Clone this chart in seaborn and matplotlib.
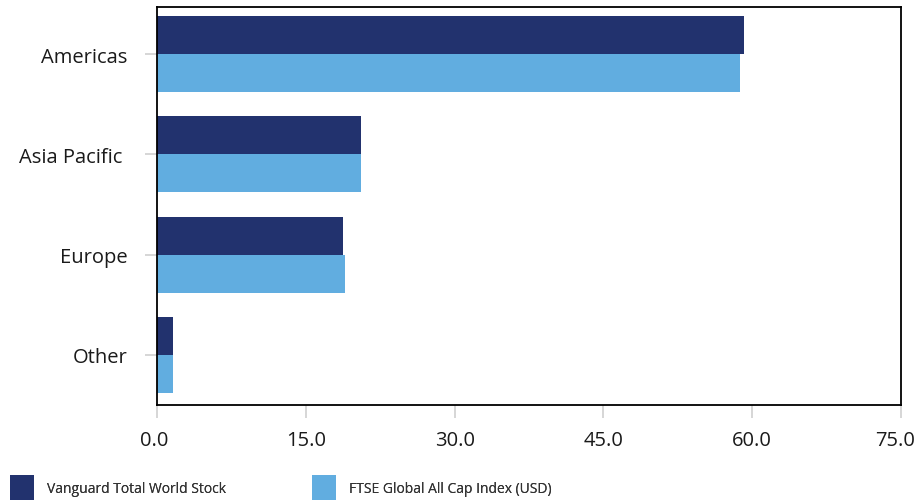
import matplotlib
matplotlib.use("Agg")
import matplotlib.pyplot as plt
import matplotlib.transforms as mtransforms
import seaborn as sns
import pandas as pd
from matplotlib.patches import Patch

regions = ["Americas", "Asia Pacific", "Europe", "Other"]
fund_name = "Vanguard Total World Stock"
index_name = "FTSE Global All Cap Index (USD)"
fund_values = [59.2, 20.6, 18.8, 1.6]
index_values = [58.8, 20.6, 19.0, 1.6]
x_ticks = [0, 15, 30, 45, 60, 75]

df = pd.DataFrame({
    "region": regions * 2,
    "series": [fund_name] * len(regions) + [index_name] * len(regions),
    "weight": fund_values + index_values,
})

sns.set_theme(style="white")
plt.rcParams["font.family"] = ["Open Sans", "DejaVu Sans"]

W, H = 920, 502
fig = plt.figure(figsize=(W / 100, H / 100), dpi=100)
ax = fig.add_axes([157 / W, 1 - 406 / H, (901 - 157) / W, (406 - 8) / H])

colors = {fund_name: "#22326E", index_name: "#61ADE0"}
sns.barplot(data=df, x="weight", y="region", hue="series", orient="h",
            palette=colors, width=0.76, saturation=1, linewidth=0,
            ax=ax, legend=False)

ax.set_xlim(0, 75)
ax.set_ylim(3.5, -0.47)
ax.set_xticks(x_ticks)
ax.set_xticklabels([f"{v:.1f}" for v in x_ticks])
ax.set_yticks(range(len(regions)))
ax.set_yticklabels(["Americas", "Asia Pacific ", "Europe", "Other"])
ax.set_xlabel("")
ax.set_ylabel("")

for s in ax.spines.values():
    s.set_visible(True)
    s.set_color("black")
    s.set_linewidth(1.3)

ax.tick_params(axis="both", which="major", bottom=True, left=True, length=9,
               width=1.2, color="#d0d0d0", direction="out",
               labelsize=14.5, labelcolor="#1a1a1a")
ax.tick_params(axis="x", pad=9)
ax.tick_params(axis="y", pad=12)

# keep the outermost x labels inside the canvas
xlabels = ax.get_xticklabels()
for lbl, dx in ((xlabels[0], -3), (xlabels[-1], -6)):
    lbl.set_transform(lbl.get_transform() +
                      mtransforms.ScaledTranslation(dx / 100, 0, fig.dpi_scale_trans))

# one legend entry per series, each anchored at its own spot along the bottom
entries = [(fund_name, 10), (index_name, 312)]
for name, x0 in entries:
    leg = fig.legend([Patch(facecolor=colors[name], edgecolor="none")], [name],
                     loc="lower left", bbox_to_anchor=(x0 / W, 1 / H),
                     frameon=False, fontsize=10, borderpad=0, borderaxespad=0,
                     handlelength=1.73, handleheight=2.4, handletextpad=0.95,
                     labelcolor="#333333")
    fig.add_artist(leg)

fig.savefig("out.png", dpi=100)
